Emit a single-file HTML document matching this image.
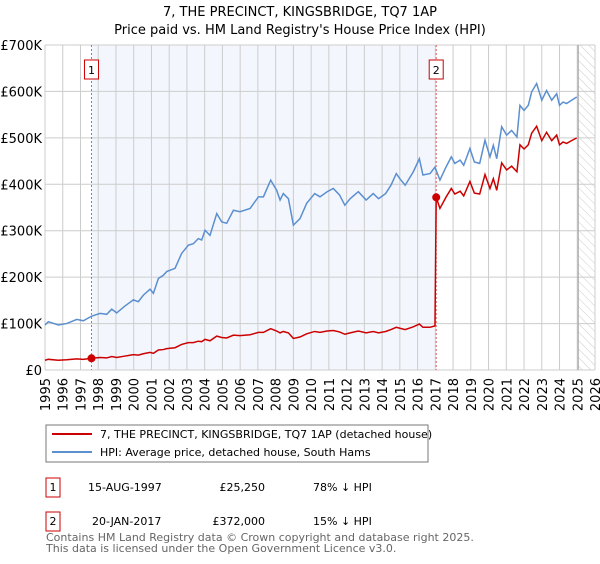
<!DOCTYPE html>
<html><head><meta charset="utf-8"><style>
body{margin:0;background:#fff;font-family:"DejaVu Sans","Liberation Sans",sans-serif;}
svg text{font-family:"DejaVu Sans","Liberation Sans",sans-serif;}
</style></head><body>
<svg id="c" width="600" height="560" xmlns="http://www.w3.org/2000/svg">
<text x="300" y="16" text-anchor="middle" font-size="13">7, THE PRECINCT, KINGSBRIDGE, TQ7 1AP</text>
<text x="300" y="34" text-anchor="middle" font-size="13">Price paid vs. HM Land Registry's House Price Index (HPI)</text>
<defs><pattern id="hatch" width="6" height="6" patternUnits="userSpaceOnUse" patternTransform="rotate(-45)"><line x1="0" y1="0" x2="0" y2="6" stroke="#ccc" stroke-width="1"/></pattern></defs>
<g id="plot"></g>
<rect x="46" y="425" width="382" height="37" fill="#fff" stroke="#777"/>
<line x1="52" y1="434" x2="92" y2="434" stroke="#cc0000" stroke-width="2"/>
<text x="100" y="438" font-size="11">7, THE PRECINCT, KINGSBRIDGE, TQ7 1AP (detached house)</text>
<line x1="52" y1="452" x2="92" y2="452" stroke="#5b8fd0" stroke-width="2"/>
<text x="100" y="456" font-size="11">HPI: Average price, detached house, South Hams</text>
<rect x="46" y="478" width="14" height="19" fill="#fff" stroke="#cc0000"/>
<text x="53" y="491" font-size="11" text-anchor="middle">1</text>
<text x="88" y="491" font-size="11">15-AUG-1997</text>
<text x="265" y="491" font-size="11" text-anchor="end">£25,250</text>
<text x="313" y="491" font-size="11">78% ↓ HPI</text>
<rect x="46" y="512" width="14" height="19" fill="#fff" stroke="#cc0000"/>
<text x="53" y="525" font-size="11" text-anchor="middle">2</text>
<text x="92" y="525" font-size="11">20-JAN-2017</text>
<text x="265" y="525" font-size="11" text-anchor="end">£372,000</text>
<text x="313" y="525" font-size="11">15% ↓ HPI</text>
<text x="46" y="541" font-size="11" fill="#666">Contains HM Land Registry data © Crown copyright and database right 2025.</text>
<text x="46" y="552" font-size="11" fill="#666">This data is licensed under the Open Government Licence v3.0.</text>
</svg>
<script>
const yTicks=[0,100,200,300,400,500,600,700];
const yTickLabels=["£0","£100K","£200K","£300K","£400K","£500K","£600K","£700K"];
const xYears=[1995,1996,1997,1998,1999,2000,2001,2002,2003,2004,2005,2006,2007,2008,2009,2010,2011,2012,2013,2014,2015,2016,2017,2018,2019,2020,2021,2022,2023,2024,2025,2026];
const hpiDates=[1995.0,1995.19,1995.75,1996.22,1996.79,1997.16,1997.63,1998.10,1998.48,1998.76,1999.04,1999.51,1999.98,2000.26,2000.54,2000.92,2001.11,2001.39,2001.67,2001.86,2002.33,2002.70,2003.08,2003.36,2003.64,2003.83,2004.02,2004.30,2004.68,2004.96,2005.24,2005.62,2005.99,2006.56,2007.03,2007.31,2007.72,2008.06,2008.25,2008.43,2008.72,2009.0,2009.37,2009.75,2010.2,2010.5,2010.9,2011.25,2011.6,2011.9,2012.2,2012.66,2013.1,2013.5,2013.8,2014.2,2014.5,2014.8,2015.0,2015.3,2015.76,2016.1,2016.3,2016.7,2016.98,2017.26,2017.6,2017.9,2018.1,2018.4,2018.6,2018.95,2019.2,2019.5,2019.8,2020.08,2020.27,2020.46,2020.74,2021.02,2021.3,2021.6,2021.77,2022.0,2022.24,2022.43,2022.71,2023.0,2023.27,2023.56,2023.84,2024.0,2024.2,2024.4,2024.68,2024.97];
const hpiValues=[97,104,97,100,109,106,116,122,120,131,123,138,151,147,161,174,165,197,204,212,219,251,269,272,283,280,301,290,337,319,316,344,341,348,373,373,409,387,366,380,369,312,326,359,380,373,384,391,377,355,369,384,366,380,369,380,398,423,412,398,427,455,420,423,437,409,437,459,445,452,441,477,448,445,495,459,484,455,524,506,516,502,570,559,570,599,617,581,602,581,595,570,577,574,581,588];
const priceDates=[1995.0,1995.19,1995.75,1996.22,1996.79,1997.16,1997.63,1998.10,1998.48,1998.76,1999.04,1999.51,1999.98,2000.26,2000.54,2000.92,2001.11,2001.39,2001.67,2001.86,2002.33,2002.70,2003.08,2003.36,2003.64,2003.83,2004.02,2004.30,2004.68,2004.96,2005.24,2005.62,2005.99,2006.56,2007.03,2007.31,2007.72,2008.06,2008.25,2008.43,2008.72,2009.0,2009.37,2009.75,2010.2,2010.5,2010.9,2011.25,2011.6,2011.9,2012.2,2012.66,2013.1,2013.5,2013.8,2014.2,2014.5,2014.8,2015.0,2015.3,2015.76,2016.1,2016.3,2016.7,2016.98,2017.05,2017.26,2017.6,2017.9,2018.1,2018.4,2018.6,2018.95,2019.2,2019.5,2019.8,2020.08,2020.27,2020.46,2020.74,2021.02,2021.3,2021.6,2021.77,2022.0,2022.24,2022.43,2022.71,2023.0,2023.27,2023.56,2023.84,2024.0,2024.2,2024.4,2024.68,2024.97];
const priceValues=[21,23,21,22,24,23,25.3,27,26,29,27,30,33,32,35,38,36,43,44,46,48,55,59,59,62,61,66,63,73,70,69,75,74,76,81,81,89,84,80,83,80,68,71,78,83,81,84,85,82,77,80,84,80,83,80,83,87,92,90,87,93,99,92,92,95,372,348,372,391,379,385,375,406,381,379,421,391,412,387,446,431,439,427,485,476,485,510,525,494,512,494,506,485,491,488,494,500];
const saleDates=[1997.62,2017.05];
const saleValues=[25.25,372];
const saleLabels=["1","2"];
const L=45,R=595,T=45,B=370;
const xs=y=>L+(y-1995)/(2026-1995)*(R-L);
const ys=v=>B-v/700*(B-T);
const NS="http://www.w3.org/2000/svg";
const g=document.getElementById('plot');
function el(t,a,p){const e=document.createElementNS(NS,t);for(const k in a)e.setAttribute(k,a[k]);(p||g).appendChild(e);return e;}
let r=el('rect',{x:xs(saleDates[0]),y:T,width:xs(saleDates[1])-xs(saleDates[0]),height:B-T,fill:'#eef3fc',opacity:0.7});


let h=el('rect',{x:xs(2025.05),y:T,width:R-xs(2025.05),height:B-T,fill:'url(#hatch)'});


xYears.forEach(y=>{const x=xs(y);
let l=el('line',{x1:x,y1:T,x2:x,y2:B,stroke:'#ccc'});


let t=el('text',{x:0,y:0,'font-size':13,transform:`translate(${x+5},${B+8}) rotate(-90)`,'text-anchor':'end'});
t.textContent=y;

});
yTicks.forEach((v,i)=>{const y=ys(v);
let l=el('line',{x1:L,y1:y,x2:R,y2:y,stroke:'#ccc'});


let t=el('text',{x:42,y:y+5,'font-size':13,'text-anchor':'end'});
t.textContent=yTickLabels[i];

});
let nl=el('line',{x1:xs(2025.05),y1:T,x2:xs(2025.05),y2:B,stroke:'#999','stroke-width':1});


saleDates.forEach((d,i)=>{const x=xs(d);
let l=el('line',{x1:x,y1:T,x2:x,y2:B,stroke:'#e06060','stroke-dasharray':'2,2'});


let b=el('rect',{x:x-7,y:60,width:14,height:19,fill:'#fff',stroke:'#cc0000'});


let t=el('text',{x:x,y:74,'font-size':11,'text-anchor':'middle'});
t.textContent=saleLabels[i];

});
let hp=el('polyline',{points:hpiDates.map((d,i)=>xs(d)+','+ys(hpiValues[i])).join(' '),fill:'none',stroke:'#5b8fd0','stroke-width':1.5});


let pp=el('polyline',{points:priceDates.map((d,i)=>xs(d)+','+ys(priceValues[i])).join(' '),fill:'none',stroke:'#cc0000','stroke-width':1.5});


saleDates.forEach((d,i)=>{
let c=el('circle',{cx:xs(d),cy:ys(saleValues[i]),r:4,fill:'#cc0000'});

});
</script>
</body></html>
